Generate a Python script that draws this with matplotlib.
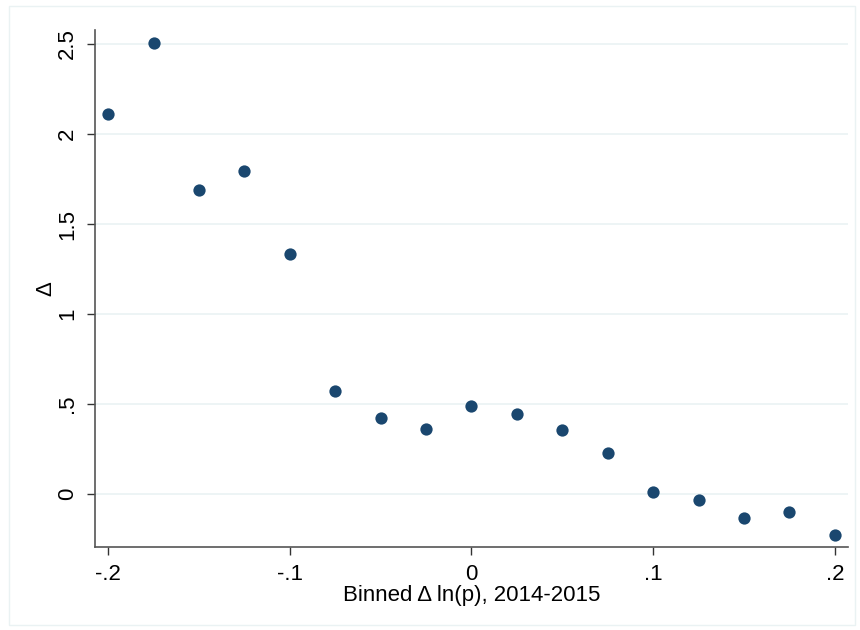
import matplotlib
matplotlib.use("Agg")
import matplotlib.pyplot as plt
from matplotlib.patches import Rectangle

plt.rcParams['font.family'] = ['Liberation Sans', 'DejaVu Sans']

bins = [-0.2, -0.175, -0.15, -0.125, -0.1, -0.075, -0.05, -0.025, 0.0,
        0.025, 0.05, 0.075, 0.1, 0.125, 0.15, 0.175, 0.2]
delta = [2.11, 2.505, 1.69, 1.795, 1.333, 0.572, 0.422, 0.361, 0.489,
         0.444, 0.356, 0.228, 0.011, -0.033, -0.131, -0.098, -0.226]

xticks = [-0.2, -0.1, 0.0, 0.1, 0.2]
xtick_labels = ['-.2', '-.1', '0', '.1', '.2']
yticks = [0, 0.5, 1, 1.5, 2, 2.5]
ytick_labels = ['0', '.5', '1', '1.5', '2', '2.5']

W, H = 860, 630
fig = plt.figure(figsize=(8.6, 6.3), dpi=100)
fig.patch.set_facecolor('white')
fig.patches.append(Rectangle((9 / W, 5 / H), 846 / W, 619 / H, transform=fig.transFigure,
                             fill=False, edgecolor='#eaf2f3', linewidth=1.0))

ax = fig.add_axes([95 / W, 1 - 547 / H, (848 - 95) / W, (547 - 30) / H])
ax.scatter(bins, delta, s=78, color='#1a476f', zorder=3, linewidths=0)

ax.set_xlim(-0.2072, 0.2072)
ax.set_ylim(-0.294, 2.578)
ax.set_xticks(xticks)
ax.set_xticklabels(xtick_labels)
ax.set_yticks(yticks)
ax.set_yticklabels(ytick_labels, rotation=90, va='center')
ax.tick_params(labelsize=16, length=6, width=1, color='#333333', pad=6)
ax.grid(axis='y', color='#eaf2f3', linewidth=1.2, zorder=0)

for s in ['top', 'right']:
    ax.spines[s].set_visible(False)
for s in ['left', 'bottom']:
    ax.spines[s].set_color('#555555')
    ax.spines[s].set_linewidth(1.2)

ax.set_xlabel('Binned \u0394 ln(p), 2014-2015', fontsize=16, labelpad=0)
ax.set_ylabel('\u0394', fontsize=16, labelpad=1)

fig.savefig('out.png', dpi=100)
